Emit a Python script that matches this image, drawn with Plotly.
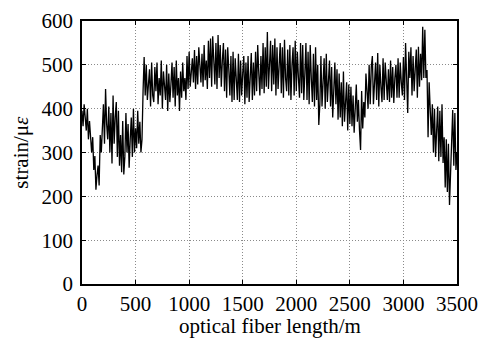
import plotly.graph_objects as go

# fiber position (m), one sample every 10 m (each row = 100 m)
step_m = 10
strain = [
    395, 360, 410, 385, 350, 400, 330, 372, 345, 300,   # 0
    335, 260, 292, 215, 248, 270, 225, 340, 300, 370,   # 100
    410, 320, 445, 365, 330, 405, 300, 390, 275, 430,   # 200
    320, 380, 415, 290, 395, 270, 340, 255, 372, 250,   # 300
    290, 390, 300, 365, 265, 330, 380, 290, 400, 300,   # 400
    355, 310, 395, 320, 370, 300, 330, 440, 518, 430,   # 500
    500, 420, 470, 490, 405, 505, 430, 415, 495, 440,   # 600
    505, 410, 470, 430, 510, 400, 485, 450, 420, 500,   # 700
    395, 480, 415, 455, 505, 425, 495, 405, 510, 430,   # 800
    470, 395, 485, 425, 505, 440, 470, 420, 520, 445,   # 900
    530, 450, 490, 515, 460, 534, 445, 520, 455, 540,   # 1000
    500, 460, 525, 450, 545, 465, 510, 445, 555, 470,   # 1100
    560, 450, 565, 500, 455, 550, 445, 568, 470, 545,   # 1200
    450, 510, 550, 440, 535, 425, 540, 490, 430, 520,   # 1300
    415, 530, 420, 515, 470, 420, 525, 415, 510, 430,   # 1400
    480, 520, 410, 505, 425, 520, 415, 470, 527, 420,   # 1500
    505, 430, 530, 440, 545, 480, 430, 520, 445, 550,   # 1600
    435, 540, 450, 575, 445, 500, 555, 440, 545, 455,   # 1700
    560, 430, 540, 445, 510, 550, 435, 540, 425, 557,   # 1800
    470, 440, 535, 430, 545, 420, 500, 540, 430, 555,   # 1900
    440, 530, 470, 425, 550, 435, 545, 420, 480, 550,   # 2000
    420, 530, 410, 545, 470, 415, 525, 405, 540, 420,   # 2100
    500, 363, 410, 520, 405, 460, 515, 400, 525, 415,   # 2200
    480, 510, 405, 495, 380, 440, 505, 410, 490, 375,   # 2300
    480, 380, 460, 360, 485, 370, 420, 460, 350, 455,   # 2400
    365, 450, 360, 430, 345, 400, 455, 370, 420, 350,   # 2500
    306, 440, 355, 415, 380, 480, 420, 400, 500, 410,   # 2600
    495, 520, 410, 470, 505, 420, 527, 405, 500, 450,   # 2700
    415, 515, 420, 505, 460, 420, 490, 415, 510, 425,   # 2800
    495, 413, 470, 500, 425, 515, 425, 505, 460, 430,   # 2900
    518, 420, 550, 435, 390, 530, 470, 540, 430, 520,   # 3000
    440, 490, 535, 425, 541, 450, 525, 465, 587, 470,   # 3100
    580, 470, 488, 335, 460, 400, 340, 410, 300, 400,   # 3200
    290, 350, 405, 280, 395, 290, 410, 276, 335, 220,   # 3300
    330, 210, 320, 180, 250, 300, 397, 270, 390, 260,   # 3400
    300,                                                # 3500
]
position = [i * step_m for i in range(len(strain))]

x_ticks = [0, 500, 1000, 1500, 2000, 2500, 3000, 3500]
y_ticks = [0, 100, 200, 300, 400, 500, 600]

x_title = "optical fiber length/m"
y_title = "strain/μ<i>ε</i>"

font_family = "Liberation Serif, Times New Roman, serif"

fig = go.Figure()
fig.add_trace(go.Scatter(
    x=position, y=strain, mode="lines",
    line=dict(color="black", width=1.3),
    showlegend=False,
))

axis_common = dict(
    showline=True, linecolor="black", linewidth=1.8, mirror="ticks",
    ticks="inside", ticklen=4, tickcolor="black", tickwidth=1,
    showgrid=True, gridcolor="#8a8a8a", gridwidth=1, griddash="1px,2px",
    zeroline=False, automargin=False,
    tickfont=dict(family=font_family, size=21, color="black"),
)

fig.update_xaxes(range=[0, 3500], tickvals=x_ticks, ticklabelstandoff=0,
                 **axis_common)
fig.update_yaxes(range=[0, 600], tickvals=y_ticks, ticklabelstandoff=3,
                 **axis_common)

# axis titles as annotations for precise placement
fig.add_annotation(
    text=x_title, xref="paper", yref="paper", x=0.5, y=-0.158,
    xanchor="center", yanchor="middle", showarrow=False,
    font=dict(family=font_family, size=21, color="black"),
)
fig.add_annotation(
    text=y_title, xref="paper", yref="paper", x=-0.165, y=0.5,
    xanchor="center", yanchor="middle", showarrow=False, textangle=-90,
    font=dict(family=font_family, size=21, color="black"),
)

fig.update_layout(
    width=489, height=339,
    margin=dict(l=82, r=32, t=21, b=55),
    paper_bgcolor="white", plot_bgcolor="white",
)

fig.write_html("out.html")
